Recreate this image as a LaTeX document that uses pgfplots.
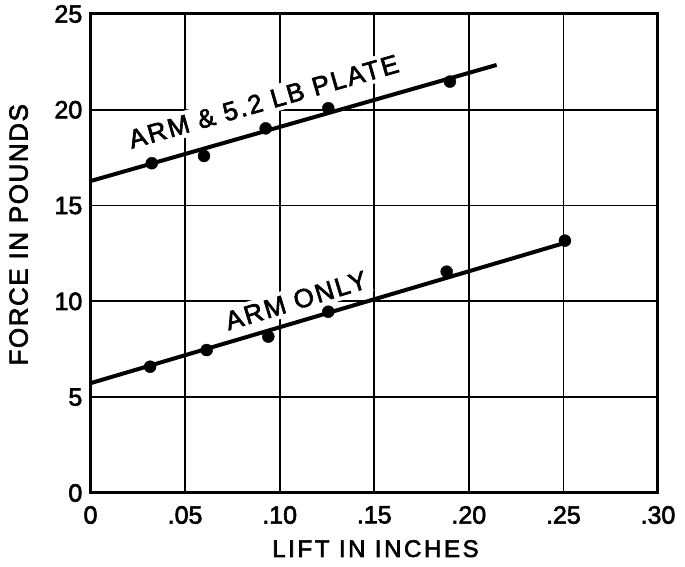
\documentclass[border=0pt]{standalone}
\usepackage{fontspec}
\setmainfont{Liberation Sans}[FakeBold=2.5]
\newfontfamily\lblfont{Liberation Sans}[LetterSpace=11, FakeBold=2.5]
\newfontfamily\ylblfont{Liberation Sans}[LetterSpace=6, FakeBold=2.5]
\newfontfamily\curvefont{Liberation Sans}[LetterSpace=8, FakeBold=2.5]
\usepackage{pgfplots}
\pgfplotsset{compat=1.18}
\begin{document}
\begin{tikzpicture}
\begin{axis}[
 scale only axis, width=567.5pt, height=479pt,
 xmin=0, xmax=0.30, ymin=0, ymax=25,
 xtick={0,0.05,0.10,0.15,0.20,0.25,0.30},
 xticklabels={0,.05,.10,.15,.20,.25,.30},
 ytick={0,5,10,15,20,25}, yticklabels={0,5,10,15,20,25},
 grid=major, grid style={black, line width=1.8pt},
 axis line style={line width=3pt},
 major tick length=0pt,
 clip=false,
 ticklabel style={font=\fontsize{25}{30}\selectfont},
 yticklabel style={anchor=east, inner sep=0pt, xshift=-8pt},
 xticklabel style={anchor=north, inner sep=0pt, yshift=-13pt},
 xlabel={LIFT IN INCHES},
 ylabel={FORCE IN POUNDS},
 xlabel style={font=\lblfont\fontsize{24}{30}\selectfont, at={(axis description cs:0.5022,-0.1336)}, anchor=base, inner sep=0pt},
 ylabel style={font=\ylblfont\fontsize{26}{30}\selectfont, at={(axis description cs:-0.1101,0.539)}, anchor=south, inner sep=0pt},
]
\path (axis description cs:-0.1595,-0.1545) rectangle (axis description cs:1.0476,1.0292);
\node[fill=white, inner sep=4pt, rotate=16, anchor=base, font=\curvefont\fontsize{26}{30}\selectfont] at (axis cs:0.0928,19.98) {ARM \& 5.2 LB PLATE};
\node[fill=white, inner sep=4pt, rotate=17, anchor=base, font=\curvefont\fontsize{26}{30}\selectfont] at (axis cs:0.1100,9.60) {ARM ONLY};
\addplot[black, line width=4pt] coordinates {(0,16.28) (0.2147,22.34)};
\addplot[black, line width=4pt] coordinates {(0,5.73) (0.25,13.03)};
\addplot[only marks, mark=*, mark size=6pt, black] coordinates {
 (0.0324,17.21) (0.0600,17.59) (0.0926,19.03) (0.1257,20.08) (0.190,21.47)};
\addplot[only marks, mark=*, mark size=6pt, black] coordinates {
 (0.0315,6.59) (0.0614,7.46) (0.0940,8.16) (0.1257,9.46) (0.1883,11.55) (0.2508,13.17)};
\end{axis}
\end{tikzpicture}
\end{document}
